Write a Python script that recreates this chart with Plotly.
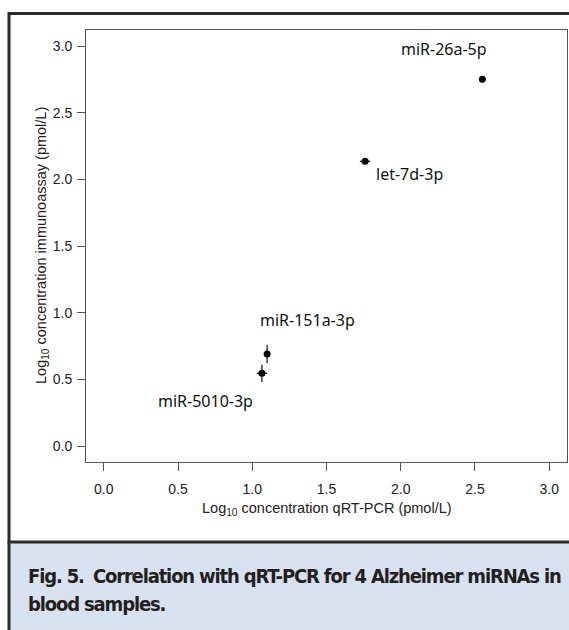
import plotly.graph_objects as go

# ---- data ----
mirnas = ["miR-26a-5p", "let-7d-3p", "miR-151a-3p", "miR-5010-3p"]
qpcr_log10 = [2.55, 1.76, 1.10, 1.065]
immuno_log10 = [2.75, 2.135, 0.69, 0.545]
qpcr_err = [0.0, 0.035, 0.02, 0.035]
immuno_err = [0.0, 0.02, 0.07, 0.065]
tick_vals = [0.0, 0.5, 1.0, 1.5, 2.0, 2.5, 3.0]
axis_range = [-0.12, 3.12]

# label placement (pixel offsets from each point)
label_style = [
    dict(xanchor="center", xshift=-38, yshift=30),
    dict(xanchor="left", xshift=9, yshift=-13),
    dict(xanchor="left", xshift=-9, yshift=34),
    dict(xanchor="right", xshift=-7, yshift=-28),
]

W, H = 569, 630
L, R, T, B = 86, 567, 30, 462
PW, PH = R - L, B - T


def px(x):
    return (x - L) / PW


def py(y):
    return (B - y) / PH


fig = go.Figure()
fig.add_trace(go.Scatter(
    x=qpcr_log10, y=immuno_log10, mode="markers",
    marker=dict(color="black", size=7),
    error_x=dict(type="data", array=qpcr_err, color="#222", thickness=1.3, width=0),
    error_y=dict(type="data", array=immuno_err, color="#222", thickness=1.3, width=0),
    showlegend=False, hoverinfo="skip",
))

annotations = []
for name, xv, yv, st in zip(mirnas, qpcr_log10, immuno_log10, label_style):
    annotations.append(dict(
        x=xv, y=yv, xref="x", yref="y", text=name, showarrow=False,
        yanchor="middle", font=dict(family="Noto Sans", size=16, color="#111"), **st))

tick_font = dict(family="Liberation Sans", size=14, color="#222")
title_font = dict(family="Liberation Sans", size=14.5, color="#222")
annotations.append(dict(
    x=px(326.5), y=py(509), xref="paper", yref="paper", showarrow=False,
    text="Log<sub>10</sub> concentration qRT-PCR (pmol/L)", font=title_font,
    xanchor="center", yanchor="middle"))
annotations.append(dict(
    x=px(42), y=py(246), xref="paper", yref="paper", showarrow=False,
    text="Log<sub>10</sub> concentration immunoassay (pmol/L)", font=title_font,
    textangle=-90, xanchor="center", yanchor="middle"))

cap_font = dict(family="Liberation Sans Narrow, DejaVu Sans Condensed", size=20, color="#231f20")
sp = '<span style="letter-spacing:-1.15px">'
annotations.append(dict(
    x=px(26), y=py(576), xref="paper", yref="paper", showarrow=False,
    text=sp + "<b>Fig. 5.</b>  <b>Correlation with qRT-PCR for 4 Alzheimer miRNAs in</b></span>",
    align="left", xanchor="left", yanchor="middle", font=cap_font))
annotations.append(dict(
    x=px(26), y=py(604), xref="paper", yref="paper", showarrow=False,
    text=sp + "<b>blood samples.</b></span>",
    align="left", xanchor="left", yanchor="middle", font=cap_font))

shapes = [
    dict(type="rect", xref="paper", yref="paper", x0=px(9), x1=px(575), y0=py(542), y1=py(640),
         fillcolor="#d8e1ef", line=dict(width=0), layer="below"),
    dict(type="rect", xref="paper", yref="paper", x0=px(9), x1=px(575), y0=py(542), y1=py(13.5),
         fillcolor="rgba(0,0,0,0)", line=dict(color="#2b2b2b", width=3)),
    dict(type="line", xref="paper", yref="paper", x0=px(9), x1=px(9), y0=py(542), y1=py(640),
         line=dict(color="#2b2b2b", width=3)),
]

axis_common = dict(
    range=axis_range, tickvals=tick_vals, tickformat=".1f",
    showgrid=False, zeroline=False, showline=True, mirror=True,
    linecolor="#555", linewidth=1, ticks="outside", ticklen=8, tickwidth=1,
    tickcolor="#555", tickfont=tick_font,
)

fig.update_layout(
    width=W, height=H,
    margin=dict(l=L, r=W - R, t=T, b=H - B, pad=0),
    paper_bgcolor="white", plot_bgcolor="white",
    xaxis=dict(**axis_common, ticklabelstandoff=6),
    yaxis=dict(**axis_common, ticklabelstandoff=2),
    annotations=annotations, shapes=shapes,
)

fig.write_html(
    "out.html",
    config={"displayModeBar": False},
    post_script="document.body.style.margin='0';document.body.style.overflow='hidden';",
)
